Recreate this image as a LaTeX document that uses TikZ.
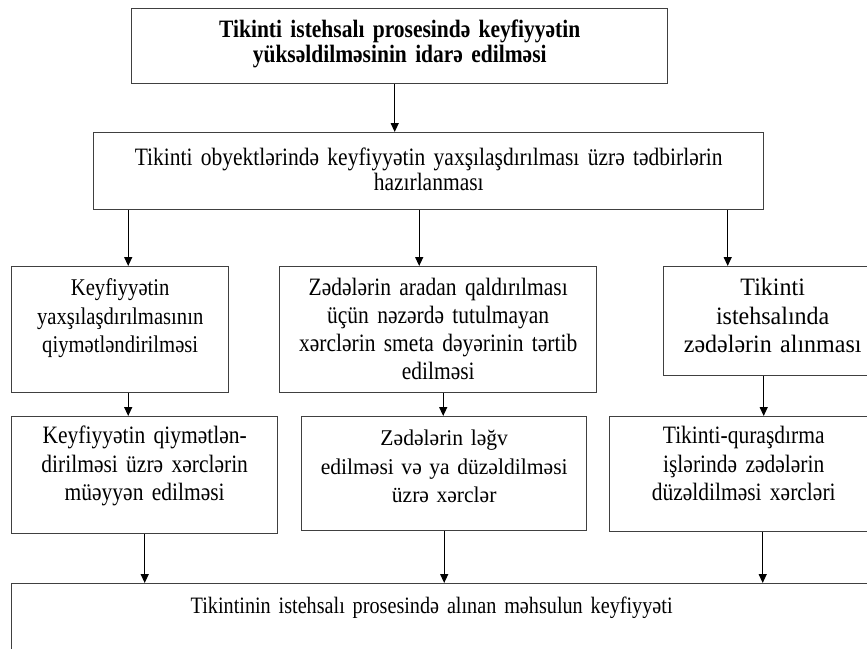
\documentclass[tikz,border=0pt]{standalone}
\usepackage{fontspec}
\setmainfont{Liberation Serif}
\newfontfamily\narrowserif[FakeStretch=0.86]{Liberation Serif}
\newfontfamily\wideserif[FakeStretch=0.96]{Liberation Serif}
\usetikzlibrary{arrows.meta, positioning}

\begin{document}
\begin{tikzpicture}[
    x=1pt, y=-1pt,
    every node/.style={align=center},
    box/.style={draw=black!75, line width=1.4pt, anchor=north west, inner sep=0pt, font=\narrowserif\fontsize{25}{28.5}\selectfont},
    wbox/.style={box, font=\wideserif\fontsize{25}{28.5}\selectfont},
    head/.style={box, font=\narrowserif\bfseries\fontsize{25}{25}\selectfont},
    flow/.style={-{Triangle[width=8pt, length=9pt]}, line width=1.3pt}
]
    \useasboundingbox (0,0) rectangle (867,648);
    \clip (0,0) rectangle (867,648);

    % Nodes
    \node[head, text width=536pt, text height=29pt, text depth=46pt] (goal) at (131,8)
        {Tikinti istehsalı prosesində keyfiyyətin\\yüksəldilməsinin idarə edilməsi};
    \node[box, font=\narrowserif\fontsize{25}{25}\selectfont, text width=670pt, text height=33pt, text depth=44pt] (plan) at (93,132)
        {Tikinti obyektlərində keyfiyyətin yaxşılaşdırılması üzrə tədbirlərin\\hazırlanması};

    \node[box, font=\narrowserif\fontsize{24}{28.5}\selectfont, text width=217pt, text height=29pt, text depth=97pt] (evalq) at (11,266)
        {Keyfiyyətin\\yaxşılaşdırılmasının\\qiymətləndirilməsi};
    \node[box, font=\narrowserif\fontsize{25}{28}\selectfont, text width=317pt, text height=29pt, text depth=97pt] (estim) at (279,266)
        {Zədələrin aradan qaldırılması\\üçün nəzərdə tutulmayan\\xərclərin smeta dəyərinin tərtib\\edilməsi};
    \node[wbox, text width=218pt, text height=29pt, text depth=80pt] (damage) at (663,266)
        {Tikinti\\istehsalında\\zədələrin alınması};

    \node[box, text width=266pt, text height=27pt, text depth=90pt] (costq) at (11,416)
        {Keyfiyyətin qiymətlən-\\dirilməsi üzrə xərclərin\\müəyyən edilməsi};
    \node[wbox, font=\wideserif\fontsize{22.5}{28.5}\selectfont, text width=285pt, text height=29pt, text depth=85pt] (costfix) at (301,416)
        {Zədələrin ləğv\\edilməsi və ya düzəldilməsi\\üzrə xərclər};
    \node[box, text width=268pt, text height=27pt, text depth=88pt] (costrep) at (609,416)
        {Tikinti-quraşdırma\\işlərində zədələrin\\düzəldilməsi xərcləri};

    \node[box, font=\narrowserif\fontsize{23.5}{28}\selectfont, align=left, text width=900pt, text height=30pt, text depth=100pt] (result) at (11,583)
        {\hspace*{179pt}Tikintinin istehsalı prosesində alınan məhsulun keyfiyyəti};

    % Arrows
    \draw[flow] ([xshift=-5pt]goal.south) -- ([xshift=-5pt]goal.south |- plan.north);

    \draw[flow] ([xshift=8pt]evalq.north |- plan.south) -- ([xshift=8pt]evalq.north);
    \draw[flow] ([xshift=-19pt]estim.north |- plan.south) -- ([xshift=-19pt]estim.north);
    \draw[flow] ([xshift=-45pt]damage.north |- plan.south) -- ([xshift=-45pt]damage.north);

    \draw[flow] ([xshift=8pt]evalq.south) -- ([xshift=8pt]evalq.south |- costq.north);
    \draw[flow] ([xshift=5pt]estim.south) -- ([xshift=5pt]estim.south |- costfix.north);
    \draw[flow] ([xshift=-9pt]damage.south) -- ([xshift=-9pt]damage.south |- costrep.north);

    \draw[flow] (costq.south) -- (costq.south |- result.north);
    \draw[flow] (costfix.south) -- (costfix.south |- result.north);
    \draw[flow] ([xshift=19pt]costrep.south) -- ([xshift=19pt]costrep.south |- result.north);

\end{tikzpicture}
\end{document}
